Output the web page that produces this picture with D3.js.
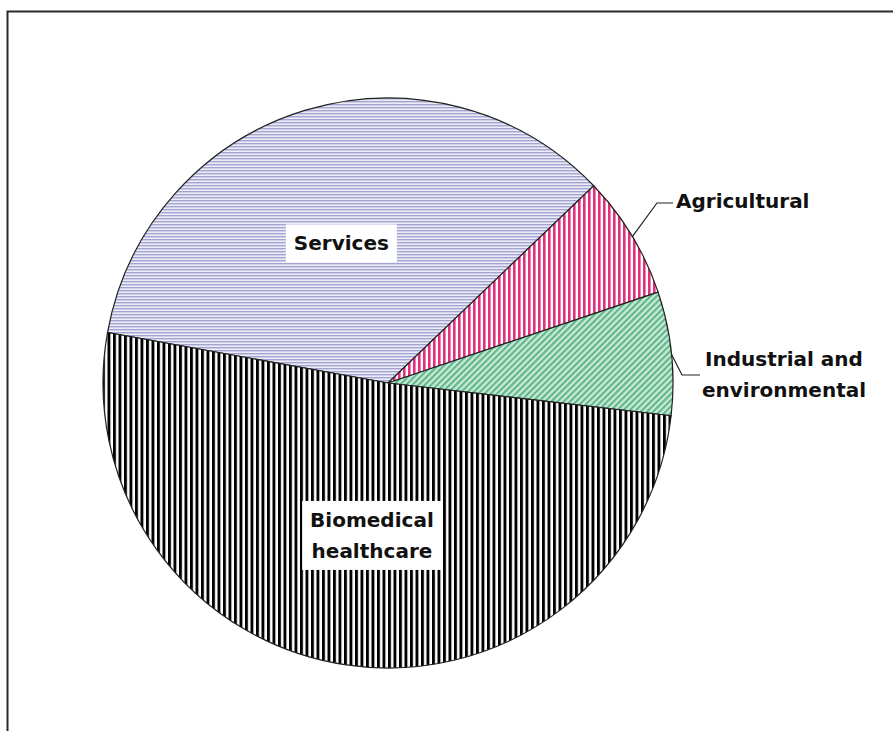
<!DOCTYPE html>
<html>
<head>
<meta charset="utf-8">
<script src="https://cdn.jsdelivr.net/npm/d3@7"></script>
<style>
  html, body { margin: 0; padding: 0; background: #fff; }
  svg { display: block; }
  .lbl { font-family: "DejaVu Sans", Verdana, sans-serif; font-weight: bold; font-size: 20px; fill: #111; }
</style>
</head>
<body>
<div id="chart"></div>
<script>
// Shares of the pie, clockwise from the Services slice
const categories = ['Services', 'Agricultural', 'Industrial and environmental', 'Biomedical healthcare'];
const shares = [35, 7, 7, 51];
const labelLines = [['Services'], ['Agricultural'], ['Industrial and', 'environmental'], ['Biomedical', 'healthcare']];
const patternIds = ['pat-serv', 'pat-agri', 'pat-ind', 'pat-bio'];

(function () {
  const W = 893, H = 731;
  const cx = 388, cy = 383, r = 285;
  const start = -79.8 * Math.PI / 180;

  const svg = d3.select('#chart').append('svg')
    .attr('width', W).attr('height', H);

  const defs = svg.append('defs');

  // horizontal lavender lines
  const p1 = defs.append('pattern').attr('id', 'pat-serv')
    .attr('patternUnits', 'userSpaceOnUse').attr('width', 4).attr('height', 3);
  p1.append('rect').attr('width', 4).attr('height', 3).attr('fill', '#ececf7');
  p1.append('rect').attr('y', 0).attr('width', 4).attr('height', 1.4).attr('fill', '#a4a4d2');

  // vertical pink stripes
  const p2 = defs.append('pattern').attr('id', 'pat-agri')
    .attr('patternUnits', 'userSpaceOnUse').attr('width', 5).attr('height', 4);
  p2.append('rect').attr('width', 5).attr('height', 4).attr('fill', '#fff');
  p2.append('rect').attr('width', 2.6).attr('height', 4).attr('fill', '#e2307c');

  // diagonal green stripes
  const p3 = defs.append('pattern').attr('id', 'pat-ind')
    .attr('patternUnits', 'userSpaceOnUse').attr('width', 4.4).attr('height', 4)
    .attr('patternTransform', 'rotate(45)');
  p3.append('rect').attr('width', 4.4).attr('height', 4).attr('fill', '#c6e8d4');
  p3.append('rect').attr('width', 2).attr('height', 4).attr('fill', '#5db58a');

  // vertical black stripes
  const p4 = defs.append('pattern').attr('id', 'pat-bio')
    .attr('patternUnits', 'userSpaceOnUse').attr('width', 5.5).attr('height', 4);
  p4.append('rect').attr('width', 5.5).attr('height', 4).attr('fill', '#fff');
  p4.append('rect').attr('width', 2.9).attr('height', 4).attr('fill', '#000');

  // frame (right/bottom edges run off the page)
  svg.append('rect')
    .attr('x', 7.5).attr('y', 11.5).attr('width', W + 20).attr('height', H + 20)
    .attr('fill', 'none').attr('stroke', '#2a2a2a').attr('stroke-width', 2);

  const pie = d3.pie().sort(null).value(d => d)
    .startAngle(start).endAngle(start + 2 * Math.PI);
  const arcs = pie(shares);

  const arc = d3.arc().innerRadius(0).outerRadius(r);
  const g = svg.append('g').attr('transform', `translate(${cx},${cy})`);

  g.selectAll('path.slice').data(arcs).enter().append('path')
    .attr('class', 'slice')
    .attr('d', arc)
    .attr('fill', (d, i) => `url(#${patternIds[i]})`)
    .attr('stroke', '#222').attr('stroke-width', 1.2);

  // inside labels with white boxes
  const labelArc = d3.arc().innerRadius(r * 0.53).outerRadius(r * 0.53);
  const inside = [0, 3];
  const lineH = 31;
  inside.forEach(i => {
    const [x, y] = labelArc.centroid(arcs[i]);
    const lines = labelLines[i];
    const tg = g.append('g').attr('transform', `translate(${x + (i === 3 ? 6 : -3)},${y + (i === 3 ? 3 : 5)})`);
    const t = tg.append('text').attr('class', 'lbl').attr('text-anchor', 'middle');
    lines.forEach((s, k) => {
      t.append('tspan').attr('x', 0)
        .attr('y', (k - (lines.length - 1) / 2) * lineH + 7)
        .text(s);
    });
    const bb = t.node().getBBox();
    tg.insert('rect', 'text')
      .attr('x', bb.x - 8).attr('y', bb.y - 7)
      .attr('width', bb.width + 16).attr('height', bb.height + 14)
      .attr('fill', '#fff');
  });

  // outside labels with leader lines
  const edge = d3.arc().innerRadius(r).outerRadius(r);
  const agri = edge.centroid(arcs[1]);
  const ind = edge.centroid(arcs[2]);

  const leader = d3.line();
  g.append('path')
    .attr('d', leader([[agri[0], agri[1] + 2], [269, -180], [285, -180]]))
    .attr('fill', 'none').attr('stroke', '#222').attr('stroke-width', 1.2);
  g.append('text').attr('class', 'lbl')
    .attr('x', 288).attr('y', -175).text(labelLines[1][0]);

  g.append('path')
    .attr('d', leader([[ind[0], ind[1] + 1], [294, -8], [312, -8]]))
    .attr('fill', 'none').attr('stroke', '#222').attr('stroke-width', 1.2);
  const it = g.append('text').attr('class', 'lbl').attr('text-anchor', 'middle');
  labelLines[2].forEach((s, k) => {
    it.append('tspan').attr('x', 396).attr('y', -17 + k * 31).text(s);
  });
})();
</script>
</body>
</html>
